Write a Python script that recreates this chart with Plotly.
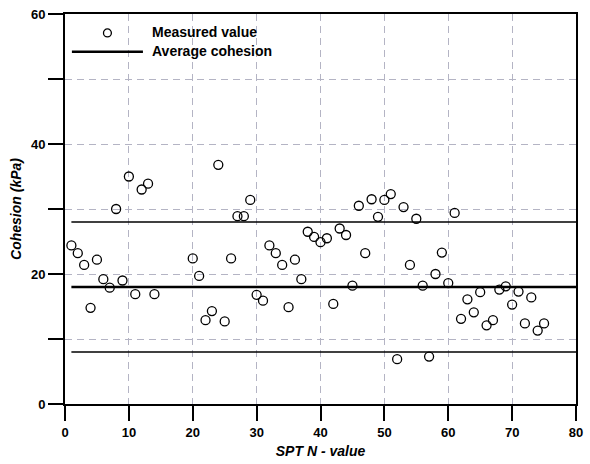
import plotly.graph_objects as go

# SPT N-value of each test and the measured cohesion (kPa)
spt_n = [1, 2, 3, 4, 5, 6, 7, 8, 9, 10, 11, 12, 13, 14,
         20, 21, 22, 23, 24, 25, 26, 27, 28, 29, 30, 31, 32, 33, 34, 35,
         36, 37, 38, 39, 40, 41, 42, 43, 44, 45, 46, 47, 48, 49, 50, 51,
         52, 53, 54, 55, 56, 57, 58, 59, 60, 61, 62, 63, 64, 65, 66, 67,
         68, 69, 70, 71, 72, 73, 74, 75]
cohesion = [24.4, 23.2, 21.4, 14.8, 22.2, 19.2, 17.9, 30.0, 19.0, 35.0, 16.9, 33.0, 33.9, 16.9,
            22.4, 19.7, 12.9, 14.3, 36.8, 12.7, 22.4, 28.9, 28.9, 31.4, 16.8, 15.9, 24.4, 23.2, 21.4, 14.9,
            22.2, 19.2, 26.5, 25.7, 24.9, 25.5, 15.4, 27.0, 26.0, 18.2, 30.5, 23.2, 31.5, 28.8, 31.4, 32.3,
            6.9, 30.3, 21.4, 28.5, 18.2, 7.3, 20.0, 23.3, 18.6, 29.4, 13.1, 16.1, 14.1, 17.2, 12.1, 12.9,
            17.6, 18.1, 15.3, 17.3, 12.4, 16.4, 11.3, 12.4]

avg_cohesion = 18.0
band = 10.0

x_ticks = [0, 10, 20, 30, 40, 50, 60, 70, 80]
y_ticks = [0, 10, 20, 30, 40, 50, 60]
y_tick_labels = ["0", "", "20", "", "40", "", "60"]

FONT = "Liberation Sans, Arial, sans-serif"

W, H = 590, 464
ML, MR, MT, MB = 65, 7, 12, 60
PW, PH = W - ML - MR, H - MT - MB


def px(x):
    return (x - ML) / PW


def py(y):
    return (H - MB - y) / PH


fig = go.Figure()

# upper and lower bounds around the average
for level in (avg_cohesion + band, avg_cohesion - band):
    fig.add_trace(go.Scatter(
        x=[spt_n[0], x_ticks[-1]], y=[level, level], mode="lines",
        line=dict(color="black", width=1.3), showlegend=False, hoverinfo="skip"))

# average cohesion
fig.add_trace(go.Scatter(
    x=[spt_n[0], x_ticks[-1]], y=[avg_cohesion, avg_cohesion], mode="lines",
    line=dict(color="black", width=2.4), name="Average cohesion", showlegend=False))

# measured values
fig.add_trace(go.Scatter(
    x=spt_n, y=cohesion, mode="markers", name="Measured value",
    marker=dict(symbol="circle-open", size=9, color="black", line=dict(width=1.3)),
    showlegend=False))

# legend block
fig.add_shape(type="line", xref="paper", yref="paper",
              x0=px(72), x1=px(144), y0=py(50), y1=py(50),
              line=dict(color="black", width=2.4))
fig.add_shape(type="circle", xref="paper", yref="paper",
              x0=px(104), x1=px(112), y0=py(35), y1=py(27),
              line=dict(color="black", width=1.3), fillcolor="white")
for label, ypix in (("Measured value", 30), ("Average cohesion", 49)):
    fig.add_annotation(text=label, xref="paper", yref="paper",
                       x=px(151), y=py(ypix), xanchor="left", yanchor="middle",
                       showarrow=False,
                       font=dict(family=FONT, size=14, color="black", weight="bold"))

axis_common = dict(
    showline=True, linecolor="black", linewidth=2, mirror=True,
    ticks="outside", ticklen=15, tickwidth=2, tickcolor="black",
    showgrid=True, gridcolor="#b4b4c4", gridwidth=1, griddash="7px,5px",
    zeroline=False,
    tickfont=dict(family=FONT, size=13, color="black", weight="bold"),
)

fig.update_xaxes(
    range=[x_ticks[0], x_ticks[-1]], tickmode="array", tickvals=x_ticks,
    ticktext=[str(v) for v in x_ticks],
    title=dict(text="SPT N - value", standoff=8,
               font=dict(family=FONT, size=14, color="black", weight="bold", style="italic")),
    **axis_common)
fig.update_yaxes(
    range=[y_ticks[0], y_ticks[-1]], tickmode="array", tickvals=y_ticks,
    ticktext=y_tick_labels,
    title=dict(text="Cohesion (kPa)", standoff=6,
               font=dict(family=FONT, size=14, color="black", weight="bold", style="italic")),
    **axis_common)

fig.update_layout(
    width=W, height=H,
    margin=dict(l=ML, r=MR, t=MT, b=MB),
    paper_bgcolor="white", plot_bgcolor="white",
    showlegend=False,
)

fig.write_html("out.html")
